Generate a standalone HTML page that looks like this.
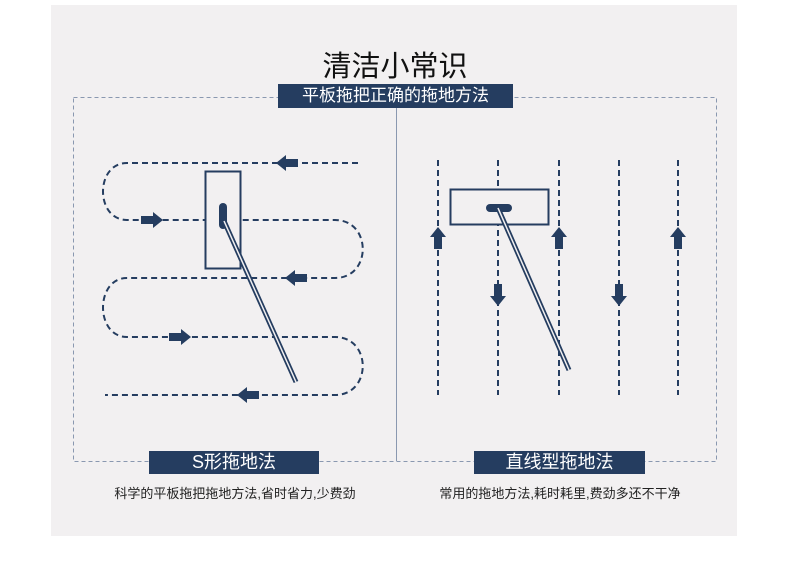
<!DOCTYPE html>
<html><head><meta charset="utf-8"><style>
body{margin:0;width:790px;height:561px;background:#fff;overflow:hidden;font-family:"Liberation Sans","Noto Sans CJK SC",sans-serif}
.p{position:absolute;left:51px;top:5px;width:686px;height:531px;background:#f2f0f1}
.t{position:absolute;left:0;width:790px;text-align:center;top:43px;font-size:29px;color:#111}
.b{position:absolute;background:#253d60;color:#fff;text-align:center}
.c{position:absolute;font-size:13px;color:#222;text-align:center}
</style></head><body>
<div class="p"></div>
<svg width="790" height="561" style="position:absolute;left:0;top:0">
<defs><g id="ar"><path d="M-11,-4 H1 V-8 L11,0 L1,8 V4 H-11 Z" fill="#253d60"/></g></defs>
<rect x="73.5" y="97.5" width="643" height="364" fill="none" stroke="#8a98b0" stroke-dasharray="4,3"/>
<line x1="396.5" y1="105" x2="396.5" y2="461" stroke="#8a98b0"/>
<g fill="none" stroke="#253d60" stroke-width="2" stroke-dasharray="6,4">
<path d="M358,163 H127 C95,163 95,220 127,220 H335 C372,220 372,278 335,278 H127 C95,278 95,337 127,337 H335 C372,337 372,395 335,395 H105"/>
<path d="M438,160V395M498,160V395M559,160V395M619,160V395M678,160V395"/>
</g>
<use href="#ar" transform="translate(287,163) rotate(180)"/>
<use href="#ar" transform="translate(152,220)"/>
<use href="#ar" transform="translate(296,278) rotate(180)"/>
<use href="#ar" transform="translate(180,337)"/>
<use href="#ar" transform="translate(248,395) rotate(180)"/>
<use href="#ar" transform="translate(438,238) rotate(-90)"/>
<use href="#ar" transform="translate(559,238) rotate(-90)"/>
<use href="#ar" transform="translate(678,238) rotate(-90)"/>
<use href="#ar" transform="translate(498,295) rotate(90)"/>
<use href="#ar" transform="translate(619,295) rotate(90)"/>
<rect x="205.5" y="171.5" width="35" height="97" fill="#f2f0f1" stroke="#253d60" stroke-width="2"/>
<rect x="450.5" y="189.5" width="98" height="35" fill="#f2f0f1" stroke="#253d60" stroke-width="2"/>
<rect x="219" y="203" width="8" height="26" rx="4" fill="#253d60"/>
<rect x="486" y="204" width="26" height="8" rx="4" fill="#253d60"/>
<line x1="224" y1="221" x2="296" y2="382" stroke="#253d60" stroke-width="5"/>
<line x1="224" y1="221" x2="296" y2="382" stroke="#f2f0f1" stroke-width="1.5"/>
<line x1="498" y1="208" x2="569" y2="370" stroke="#253d60" stroke-width="5"/>
<line x1="498" y1="208" x2="569" y2="370" stroke="#f2f0f1" stroke-width="1.5"/>
</svg>
<div class="t">清洁小常识</div>
<div class="b" style="left:278px;top:84px;width:235px;height:24px;line-height:24px;font-size:17px">平板拖把正确的拖地方法</div>
<div class="b" style="left:149px;top:451px;width:170px;height:23px;line-height:23px;font-size:18px">S形拖地法</div>
<div class="b" style="left:474px;top:451px;width:171px;height:23px;line-height:23px;font-size:18px">直线型拖地法</div>
<div class="c" style="left:100px;width:270px;top:483px">科学的平板拖把拖地方法,省时省力,少费劲</div>
<div class="c" style="left:420px;width:280px;top:483px">常用的拖地方法,耗时耗里,费劲多还不干净</div>
</body></html>
